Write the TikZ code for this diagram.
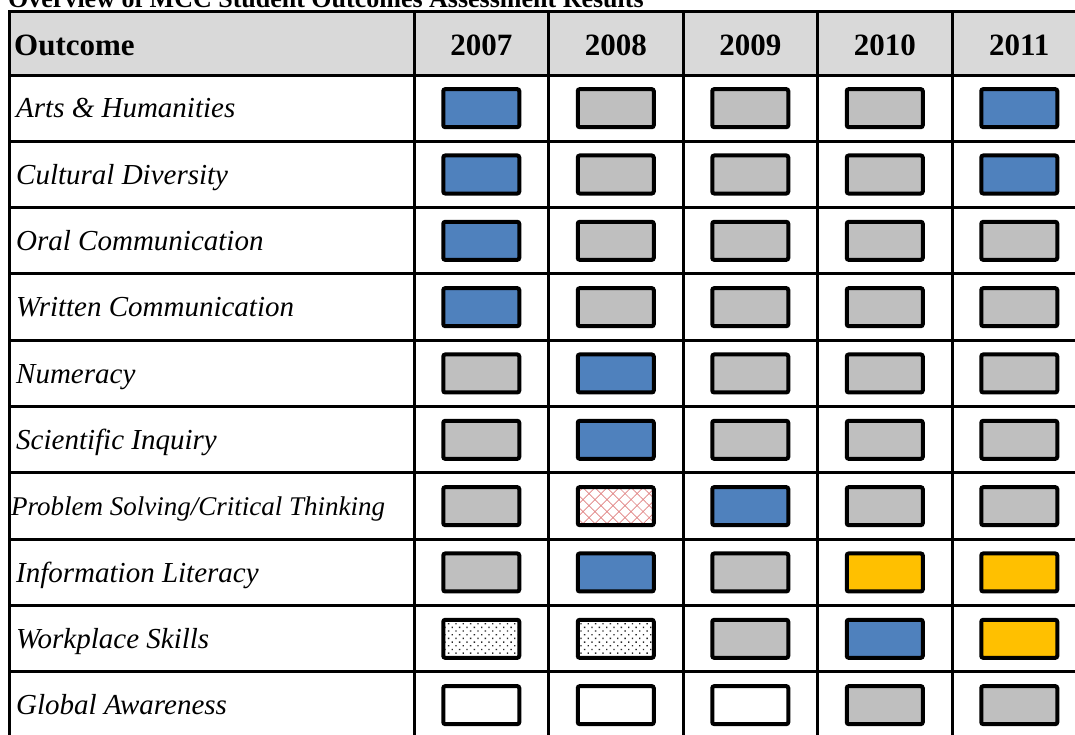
\documentclass[tikz,border=0pt]{standalone}
\usepackage{fontspec}
\setmainfont{Liberation Serif}
\usetikzlibrary{patterns.meta}
\definecolor{cBlue}{HTML}{4F81BD}
\definecolor{cGray}{HTML}{BFBFBF}
\definecolor{cGold}{HTML}{FFC000}
\definecolor{cHead}{HTML}{D9D9D9}
\definecolor{cHatch}{HTML}{E08080}

\begin{document}
\begin{tikzpicture}[x=1pt,y=-1pt,
  rule/.style={line width=3pt,line cap=rect},
  hdr/.style={inner sep=0pt,font=\fontsize{31}{36}\selectfont\bfseries},
  lab/.style={anchor=base west,inner sep=0pt,font=\fontsize{29}{34}\selectfont\itshape},
  resbox/.style={draw,line width=4pt,rounded corners=2pt,minimum width=76pt,minimum height=38pt,inner sep=0pt},
  resblue/.style={resbox,fill=cBlue},
  resgray/.style={resbox,fill=cGray},
  resgold/.style={resbox,fill=cGold},
  resnone/.style={resbox,fill=white},
  reshatch/.style={resbox,preaction={fill=white},
    preaction={pattern={Lines[angle=-45,distance=8.5pt,line width=0.7pt]},pattern color=cHatch},
    pattern={Lines[angle=45,distance=8.5pt,line width=0.7pt]},pattern color=cHatch},
  resdots/.style={resbox,preaction={fill=white},
    pattern={Dots[angle=45,distance=5.2pt,radius=0.95pt]},pattern color=black!85}]
\clip (0,0) rectangle (1075,734);
% title, cut by the top edge
\node[anchor=base west,inner sep=0pt,font=\fontsize{26}{30}\selectfont\bfseries] (title) at (8,7)
  {Overview of MCC Student Outcomes Assessment Results};
% header band and grid
\fill[cHead] (9,11) rectangle (1090,75);
\draw[rule] (9,11) -- (1090,11);
\foreach \k in {0,...,9}
  \draw[rule] (9,{75+66.33*\k}) -- (1090,{75+66.33*\k});
\draw[rule] (9,11) -- (9,740);
\foreach \k in {0,...,5}
  \draw[rule] ({414+134.5*\k},11) -- ({414+134.5*\k},740);
% header
\node[hdr,anchor=base west] (hdr-out) at (14,55) {Outcome};
\foreach \yr [count=\cl] in {2007,2008,2009,2010,2011}
  \node[hdr,anchor=base] (hdr-\yr) at ({414+134.5*(\cl-0.5)},55) {\yr};
% outcomes
\node[lab] (lab-1) at (16,117.8) {Arts \& Humanities};
\node[lab] (lab-2) at (16,184.1) {Cultural Diversity};
\node[lab] (lab-3) at (16,250.4) {Oral Communication};
\node[lab] (lab-4) at (16,316.8) {Written Communication};
\node[lab] (lab-5) at (16,383.1) {Numeracy};
\node[lab] (lab-6) at (16,449.4) {Scientific Inquiry};
\node[lab,font=\fontsize{27}{32}\selectfont\itshape] (lab-7) at (11,515.1) {Problem Solving/Critical Thinking};
\node[lab] (lab-8) at (16,582.1) {Information Literacy};
\node[lab] (lab-9) at (16,648.4) {Workplace Skills};
\node[lab] (lab-10) at (16,714.8) {Global Awareness};
% results per year
\foreach \codes [count=\rw] in {
  {resblue,resgray,resgray,resgray,resblue},
  {resblue,resgray,resgray,resgray,resblue},
  {resblue,resgray,resgray,resgray,resgray},
  {resblue,resgray,resgray,resgray,resgray},
  {resgray,resblue,resgray,resgray,resgray},
  {resgray,resblue,resgray,resgray,resgray},
  {resgray,reshatch,resblue,resgray,resgray},
  {resgray,resblue,resgray,resgold,resgold},
  {resdots,resdots,resgray,resblue,resgold},
  {resnone,resnone,resnone,resgray,resgray}}{
  \foreach \st [count=\cl] in \codes
    \node[\st] (res-\rw-\cl) at ({414+134.5*(\cl-0.5)},{75+66.33*(\rw-0.5)}) {};
}
\end{tikzpicture}
\end{document}
